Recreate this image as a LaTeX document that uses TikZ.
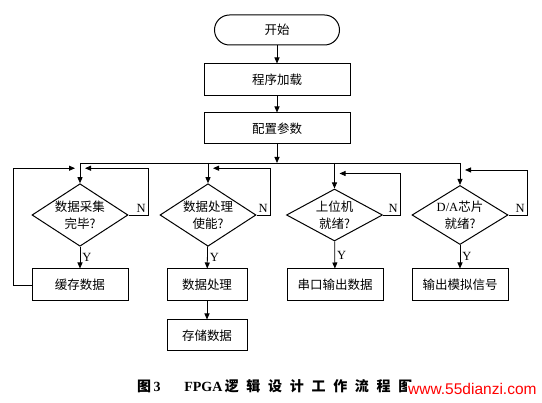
\documentclass[tikz,border=0pt]{standalone}
\usepackage{fontspec}
\setmainfont{Liberation Serif}
\newfontfamily\cjk{Noto Sans CJK SC}
\newfontfamily\cjkcap{Noto Sans CJK SC}[LetterSpace=55]
\newfontfamily\webfont{Liberation Sans}
\usetikzlibrary{shapes.geometric,arrows.meta,positioning}

\begin{document}
\begin{tikzpicture}[x=1pt,y=1pt,
  every node/.style={font=\cjk\fontsize{12.5}{17}\selectfont},
  box/.style={draw,line width=1pt,minimum width=146,minimum height=32,inner sep=0pt},
  decide/.style={diamond,draw,line width=1pt,minimum width=96,minimum height=52,inner sep=-4pt,align=center},
  flow/.style={line width=0.8pt,-{Triangle[length=6pt,width=5pt]}},
  link/.style={line width=0.8pt},
  lab/.style={font=\fontsize{12.5}{15}\selectfont}]
  \useasboundingbox (0,0) rectangle (542,-403);
  % Start and initialisation
  \node[box,rounded corners=15,minimum width=125,minimum height=30] (start) at (277,-30) {开始};
  \node[box] (load) at (277,-80) {程序加载};
  \node[box,minimum height=31] (config) at (277,-128.5) {配置参数};
  \coordinate (bus) at (277,-163);
  \draw[flow] (start) -- (load);
  \draw[flow] (load) -- (config);
  \draw[flow] (config) -- (bus);
  % Four parallel branches
  \node[decide] (d1) at (80,-215) {数据采集\\完毕?};
  \node[decide] (d2) at (208,-215) {数据处理\\使能?};
  \node[decide] (d3) at (334.5,-215) {上位机\\就绪?};
  \node[decide] (d4) at (460,-215) {{\rmfamily D/A}芯片\\就绪?};
  \node[box,minimum width=96] (cache) at (80,-285) {缓存数据};
  \node[box,minimum width=80] (proc) at (207,-285) {数据处理};
  \node[box,minimum width=96] (serial) at (335,-285) {串口输出数据};
  \node[box,minimum width=96] (analog) at (460,-285) {输出模拟信号};
  \node[box,minimum width=80,minimum height=31] (store) at (207,-335.5) {存储数据};
  \draw[link] (d1.north |- bus) -- (d4.north |- bus);
  \foreach \n/\b/\xr in {d1/cache/148,d2/proc/270,d3/serial/400,d4/analog/527}{
    \draw[flow] (\n.north |- bus) -- (\n.north);
    \draw[flow] (\n.east) -- (\xr,-215) node[lab,anchor=south east,inner sep=2pt]{N}
      |- ([xshift=5pt,yshift=15pt]\n.north);
    \draw[flow] (\n) -- node[lab,right,inner sep=2pt]{Y} (\b);
  }
  % Loop back after buffering
  \draw[flow] (cache.west) -- (13,-285) |- ([xshift=-5pt,yshift=15pt]d1.north);
  \draw[flow] (proc) -- (store);
  % Caption
  \node[font=\fontsize{14}{16}\selectfont,anchor=west,inner sep=0pt] (cap) at (137,-386)
    {{\cjkcap\bfseries 图}\,{\bfseries 3}\hspace{1.7em}{\bfseries FPGA}\,{\cjkcap\bfseries 逻辑设计工作流程图}};
  \node[font=\webfont\fontsize{15.5}{17}\selectfont,text=red,anchor=west,fill=white,inner sep=1pt] (mark) at (407,-389) {www.55dianzi.com};
\end{tikzpicture}
\end{document}
